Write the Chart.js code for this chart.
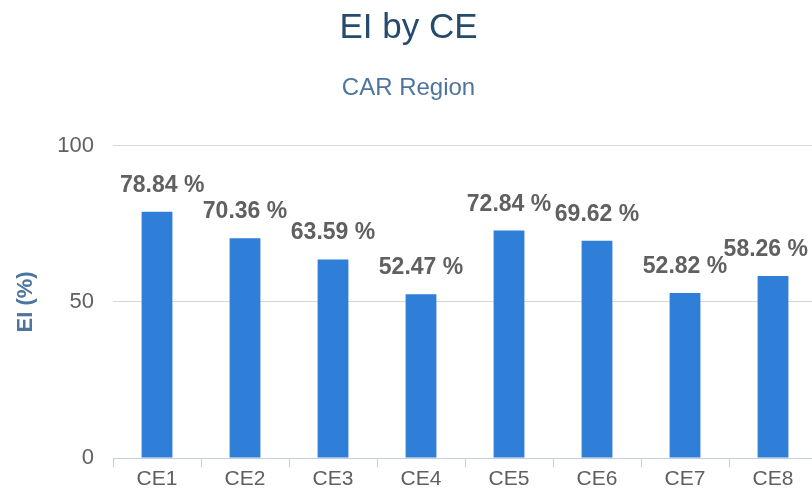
<!DOCTYPE html>
<html lang="en">
<head>
  <meta charset="UTF-8" />
  <title>EI by CE</title>
  <script src="https://cdn.jsdelivr.net/npm/chart.js"></script>
  <style>
    html, body { margin: 0; padding: 0; background: #fff; overflow: hidden; }
    .caja { width: 818px; height: 495px; }
  </style>
</head>
<body>
  <div class="caja"><canvas id="graficoEI"></canvas></div>

  <script>
    const categorias = ['CE1', 'CE2', 'CE3', 'CE4', 'CE5', 'CE6', 'CE7', 'CE8'];
    const valoresEI = [78.84, 70.36, 63.59, 52.47, 72.84, 69.62, 52.82, 58.26];
    const ticksY = [0, 50, 100];

    const fuente = '"Liberation Sans", Arial, sans-serif';

    // etiquetas de valor encima de cada barra
    const etiquetas = {
      id: 'etiquetas',
      afterDatasetsDraw(chart) {
        const ctx = chart.ctx;
        const meta = chart.getDatasetMeta(0);
        ctx.save();
        ctx.font = 'bold 23px ' + fuente;
        ctx.fillStyle = '#606060';
        ctx.textBaseline = 'alphabetic';
        ctx.textAlign = 'left';
        meta.data.forEach((barra, i) => {
          const texto = valoresEI[i].toFixed(2) + ' %';
          const ancho = ctx.measureText(texto).width;
          let x = barra.x - ancho / 2;
          x = Math.max(x, chart.chartArea.left + 7);
          x = Math.min(x, 808 - ancho);
          ctx.fillText(texto, x, barra.y - 20);
        });
        ctx.restore();
      }
    };

    new Chart(document.getElementById('graficoEI'), {
      type: 'bar',
      data: {
        labels: categorias,
        datasets: [{
          data: valoresEI,
          backgroundColor: '#2f7ed8',
          barPercentage: 0.7,
          categoryPercentage: 0.5
        }]
      },
      options: {
        responsive: true,
        maintainAspectRatio: false,
        animation: false,
        layout: { padding: { left: 0, right: 1, top: 0, bottom: 0 } },
        plugins: {
          legend: { display: false },
          tooltip: { enabled: false },
          title: {
            display: true,
            text: 'EI by CE',
            color: '#274b6d',
            font: { family: fuente, size: 35, weight: 'normal' },
            padding: { top: 7, bottom: 25 }
          },
          subtitle: {
            display: true,
            text: 'CAR Region',
            color: '#4d759e',
            font: { family: fuente, size: 24, weight: 'normal' },
            padding: { top: 0, bottom: 43 }
          }
        },
        scales: {
          x: {
            grid: {
              drawOnChartArea: false,
              drawTicks: true,
              tickLength: 9,
              color: '#c0d0e0'
            },
            border: { color: '#c0d0e0', width: 1 },
            ticks: {
              color: '#606060',
              font: { family: fuente, size: 21 },
              padding: 0,
              maxRotation: 0
            },
            afterFit(scale) { scale.height = 37; }
          },
          y: {
            min: 0,
            max: 100,
            afterBuildTicks(scale) { scale.ticks = ticksY.map(v => ({ value: v })); },
            grid: { color: '#d8d8d8', drawTicks: false },
            border: { display: false },
            ticks: {
              color: '#606060',
              font: { family: fuente, size: 22 },
              padding: 19
            },
            title: {
              display: true,
              text: 'EI (%)',
              color: '#4d759e',
              font: { family: fuente, size: 22, weight: 'bold' },
              padding: { top: 13, bottom: 0 }
            },
            afterFit(scale) { scale.width = 113; }
          }
        }
      },
      plugins: [etiquetas]
    });
  </script>
</body>
</html>
